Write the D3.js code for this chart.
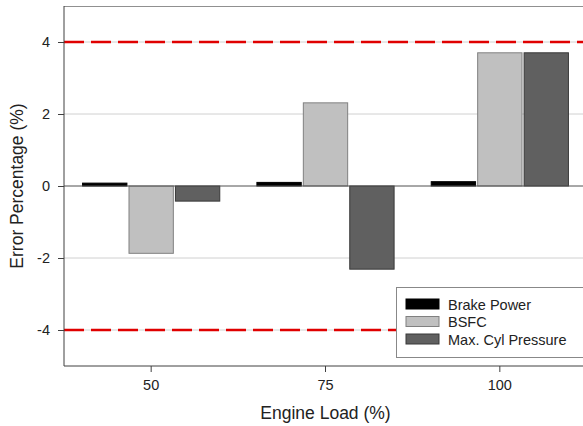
<!DOCTYPE html>
<html>
<head>
<meta charset="utf-8">
<script src="https://d3js.org/d3.v7.min.js"></script>
<style>
  html, body { margin: 0; background: #fff; }
  svg { display: block; font-family: "Liberation Sans", Arial, sans-serif; }
</style>
</head>
<body>
<svg id="chart" width="583" height="426"></svg>
<script>
  const loads = ["50", "75", "100"];
  const seriesNames = ["Brake Power", "BSFC", "Max. Cyl Pressure"];
  const brakePower = [0.08, 0.1, 0.12];
  const bsfc = [-1.87, 2.31, 3.7];
  const maxCylPressure = [-0.42, -2.31, 3.7];
  const yTicks = [-4, -2, 0, 2, 4];
  const limits = [4, -4];

  const seriesValues = [brakePower, bsfc, maxCylPressure];
  const fills = ["#000000", "#c0c0c0", "#606060"];
  const strokes = ["#000000", "#808080", "#383838"];

  const svg = d3.select("#chart");
  const m = { left: 64, top: 6, right: 587, bottom: 366 };

  const x = d3.scaleBand().domain(loads).range([m.left, m.right]);
  const xs = d3.scaleBand().domain(seriesNames).range([0, x.bandwidth()])
    .paddingInner(0.045).paddingOuter(0.4);
  const y = d3.scaleLinear().domain([-5, 5]).range([m.bottom, m.top]);

  // grid
  svg.append("g")
    .selectAll("line")
    .data([-4, -2, 2, 4])
    .join("line")
    .attr("x1", m.left).attr("x2", m.right)
    .attr("y1", d => y(d)).attr("y2", d => y(d))
    .attr("stroke", "#d0d0d0").attr("stroke-width", 1);

  // frame top
  svg.append("line")
    .attr("x1", m.left).attr("x2", m.right)
    .attr("y1", m.top + 0.5).attr("y2", m.top + 0.5)
    .attr("stroke", "#909090");

  // bars
  seriesNames.forEach((name, i) => {
    svg.append("g")
      .selectAll("rect")
      .data(loads.map((l, j) => ({ l, v: seriesValues[i][j] })))
      .join("rect")
      .attr("x", d => x(d.l) + xs(name))
      .attr("width", xs.bandwidth())
      .attr("y", d => y(Math.max(0, d.v)))
      .attr("height", d => Math.abs(y(d.v) - y(0)))
      .attr("fill", fills[i])
      .attr("stroke", strokes[i])
      .attr("stroke-width", 1);
  });

  // zero line
  svg.append("line")
    .attr("x1", m.left).attr("x2", m.right)
    .attr("y1", y(0)).attr("y2", y(0))
    .attr("stroke", "#505050").attr("stroke-width", 1);

  // limit lines
  svg.append("g")
    .selectAll("line")
    .data(limits)
    .join("line")
    .attr("x1", m.left).attr("x2", m.right)
    .attr("y1", d => y(d)).attr("y2", d => y(d))
    .attr("stroke", "#e00000").attr("stroke-width", 2.5)
    .attr("stroke-dasharray", "20,7");

  // axes
  const yAxis = svg.append("g")
    .attr("transform", `translate(${m.left},0)`)
    .call(d3.axisLeft(y).tickValues(yTicks).tickSize(6).tickPadding(8).tickFormat(d => String(d)));
  const xAxis = svg.append("g")
    .attr("transform", `translate(0,${m.bottom})`)
    .call(d3.axisBottom(x).tickSize(6).tickPadding(8));
  [yAxis, xAxis].forEach(a => {
    a.select(".domain").attr("stroke", "#404040");
    a.selectAll(".tick line").attr("stroke", "#404040");
    a.selectAll("text").attr("font-size", 14.5).attr("fill", "#222")
      .attr("font-family", "Liberation Sans, Arial, sans-serif");
  });
  yAxis.select(".domain").attr("d", `M0,${m.top}V${m.bottom}`);
  xAxis.select(".domain").attr("d", `M${m.left},0H${m.right}`);

  // titles
  svg.append("text")
    .attr("transform", `translate(23,${y(0)}) rotate(-90)`)
    .attr("text-anchor", "middle")
    .attr("font-size", 17.5).attr("fill", "#222")
    .text("Error Percentage (%)");
  svg.append("text")
    .attr("x", x("75") + x.bandwidth() / 2).attr("y", 419)
    .attr("text-anchor", "middle")
    .attr("font-size", 17.5).attr("fill", "#222")
    .text("Engine Load (%)");

  // legend
  const lg = svg.append("g").attr("transform", "translate(396,287)");
  lg.append("rect")
    .attr("x", 0.5).attr("y", 0.5).attr("width", 190).attr("height", 70)
    .attr("fill", "#fff").attr("stroke", "#888");
  seriesNames.forEach((name, i) => {
    const row = lg.append("g").attr("transform", `translate(10,${12 + i * 17.5})`);
    row.append("rect")
      .attr("width", 33).attr("height", 10)
      .attr("fill", fills[i]).attr("stroke", strokes[i]);
    row.append("text")
      .attr("x", 42).attr("y", 10.5)
      .attr("font-size", 14.5).attr("fill", "#222")
      .text(name);
  });
</script>
</body>
</html>
